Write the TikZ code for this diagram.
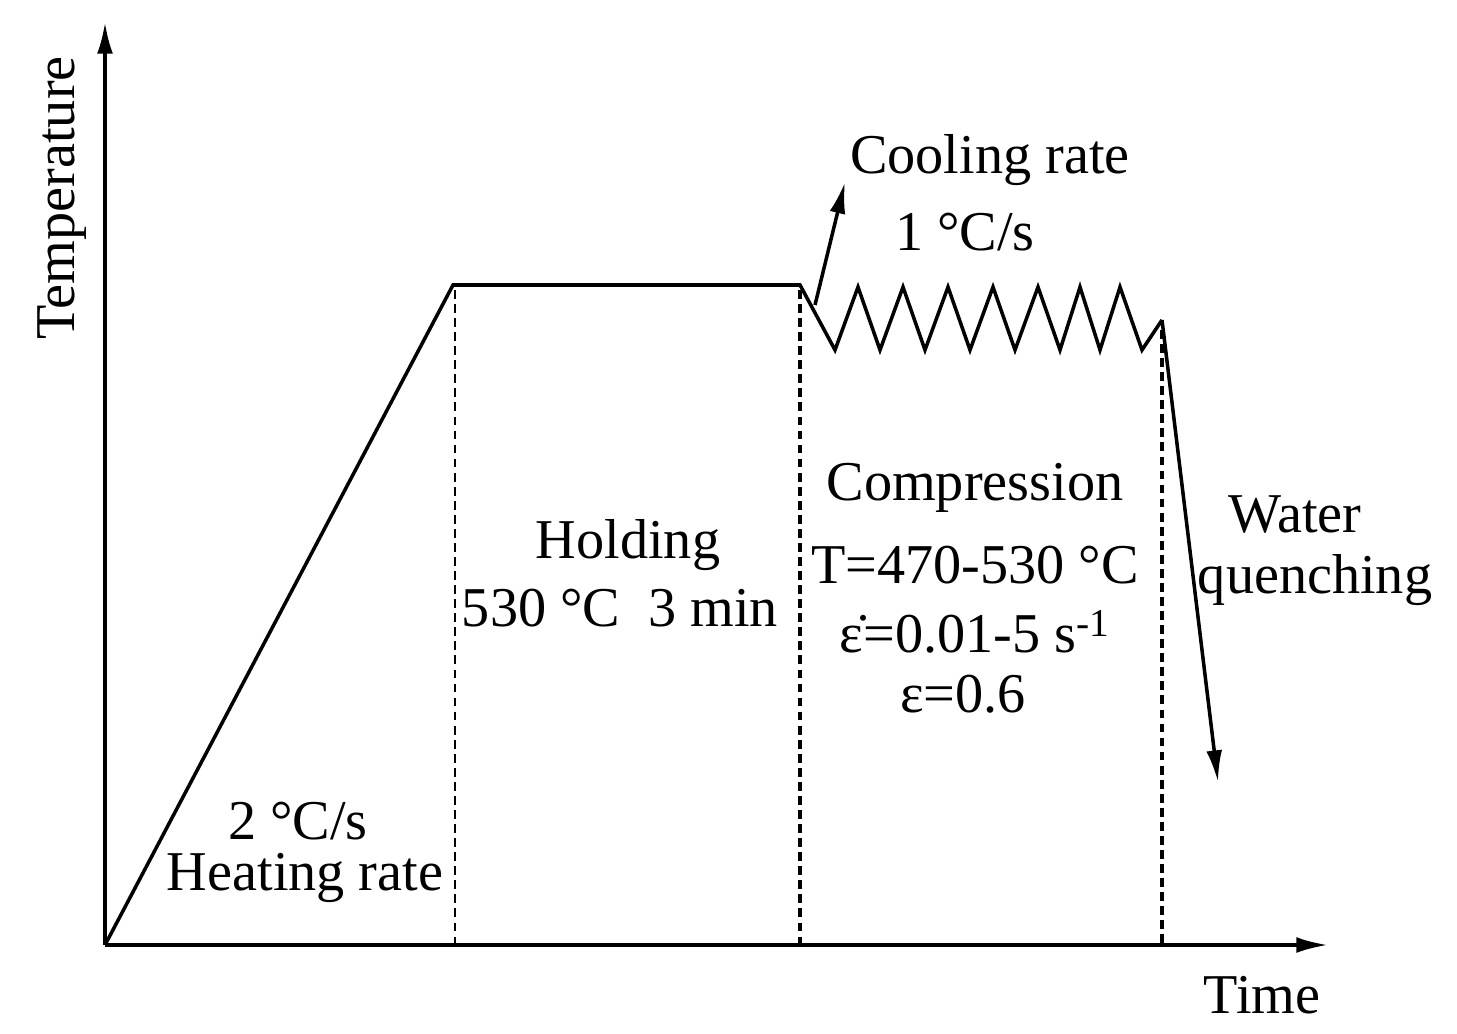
\documentclass[tikz,border=0pt]{standalone}
\usepackage{fontspec}
\setmainfont{Liberation Serif}
\usetikzlibrary{arrows.meta}
\begin{document}
\begin{tikzpicture}[x=0.02cm,y=-0.02cm,
  lbl/.style={font=\fontsize{32}{34}\selectfont,inner sep=0pt,align=center},
  curve/.style={line width=2pt,line join=miter},
  arr/.style={-{Latex[length=18pt,width=9pt]},line width=2pt},
  dsh/.style={dashed,dash pattern=on 5pt off 3pt}]
\useasboundingbox (0,0) rectangle (1457,1034);
\coordinate (O) at (105,945);
\coordinate (Ytop) at (105,22);
\coordinate (Xend) at (1328,945);
\draw[arr] (O) -- (Ytop);
\draw[arr] (O) -- (Xend);
\coordinate (A) at (453,285);
\coordinate (B) at (800,285);
\coordinate (C) at (1162,320);
\coordinate (Q) at (1218,782);
\draw[curve] (O) -- (A) -- (B) -- (835,350) -- (858,287) -- (880,350) -- (903,287) -- (925,350) -- (948,287) -- (970,350) -- (993,287) -- (1015,350) -- (1038,287) -- (1060,350) -- (1080,287) -- (1100,350) -- (1120,287) -- (1142,350) -- (C);
\draw[arr] (C) -- (Q);
\coordinate (c1) at (815,305);
\coordinate (c2) at (845,182);
\draw[arr] (c1) -- (c2);
\draw[dsh,line width=1pt] (455,290) -- (455,945);
\draw[dsh,line width=2pt] (800,290) -- (800,945);
\draw[dsh,line width=2pt] (1162,330) -- (1162,945);
\node[lbl,rotate=90] (ty) at (62,198) {Temperature};
\node[lbl] (tx) at (1262,995) {Time};
\node[lbl] (cr) at (990,160) {Cooling rate};
\node[lbl] (cr2) at (965,232) {1 °C/s};
\node[lbl] (h1) at (628,545) {Holding};
\node[lbl] (h2) at (620,608) {530 °C\ \ 3 min};
\node[lbl] (p1) at (975,488) {Compression};
\node[lbl] (p2) at (975,565) {T=470-530 °C};
\node[lbl] (p3) at (975,632) {\.{ε}=0.01-5 s\textsuperscript{-1}};
\node[lbl] (p4) at (963,694) {ε=0.6};
\node[lbl] (w1) at (1295,515) {Water};
\node[lbl] (w2) at (1315,580) {quenching};
\node[lbl] (r1) at (298,821) {2 °C/s};
\node[lbl] (r2) at (305,878) {Heating rate};
\end{tikzpicture}
\end{document}
